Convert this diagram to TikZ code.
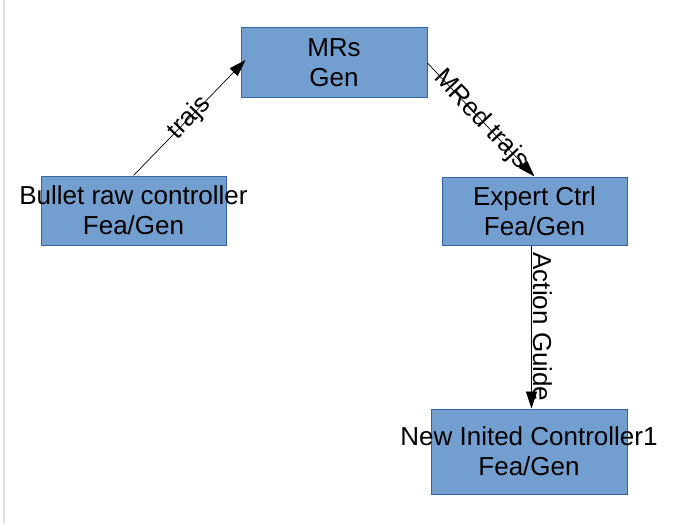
\documentclass[tikz,border=0pt]{standalone}
\usepackage{fontspec}
\setmainfont{Liberation Sans}
\usetikzlibrary{arrows.meta, positioning, calc}

\begin{document}
\begin{tikzpicture}[
    x=1pt, y=-1pt,
    every node/.style={font=\fontsize{26}{30}\selectfont},
    blockbox/.style={rectangle, draw=boxedge, fill=boxfill, line width=1pt, inner sep=0pt},
    blocktext/.style={align=center, inner sep=0pt},
    link/.style={-{Triangle[length=17pt, width=11pt]}, line width=0.7pt, black},
    linklabel/.style={midway, sloped, inner sep=1pt},
  ]
  \definecolor{boxfill}{HTML}{729FCF}
  \definecolor{boxedge}{HTML}{3465A4}

  \useasboundingbox (0,0) rectangle (700,524);
  % page edge
  \draw[gray!25, line width=1.5pt] (4,0) -- (4,524);

  \foreach \nm/\cx/\cy/\bw/\bh/\txt in {
    mrs/334/63/186/70/{MRs\\Gen},
    bullet/133.5/210.5/185/69/{Bullet raw controller\\Fea/Gen},
    expert/534.5/211/185/68/{Expert Ctrl\\Fea/Gen},
    newctrl/529/451.5/196/85/{New Inited Controller1\\Fea/Gen}%
  }{
    \node[blockbox, minimum width=\bw pt, minimum height=\bh pt] (\nm) at (\cx,\cy) {};
    \node[blocktext] (\nm-t) at (\nm.center) {\txt};
  }

  \draw[link] (bullet.north) -- ($(mrs.west)+(5,-3)$)
    node[linklabel] {trajs};
  \draw[link] (mrs.east) -- (expert.north)
    node[linklabel] {MRed trajs};
  \draw[link] ([xshift=-3pt]expert.south) -- ([xshift=-3pt]expert.south |- newctrl.north)
    node[linklabel, above] {Action Guide};
\end{tikzpicture}
\end{document}
